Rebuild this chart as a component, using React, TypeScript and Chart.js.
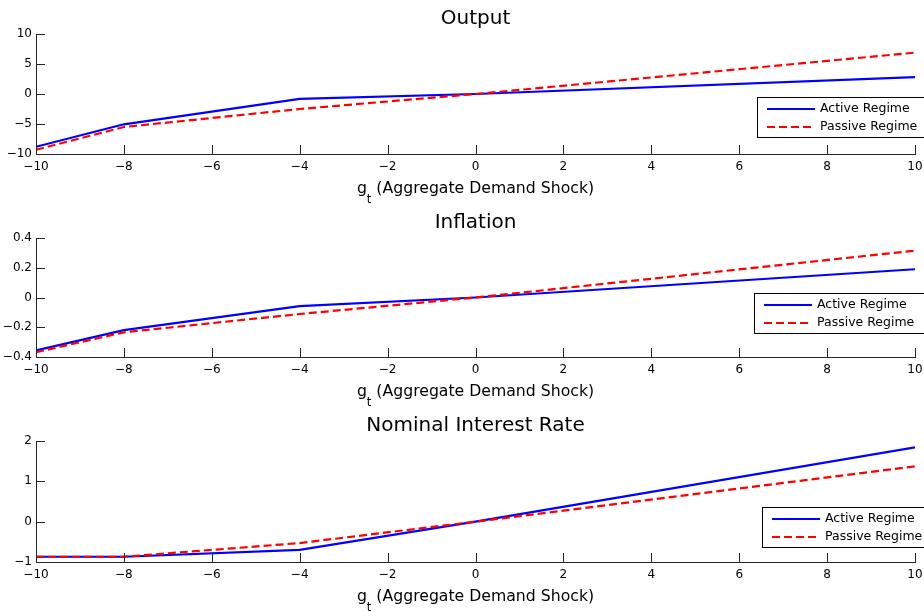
import { useEffect, useRef } from "react";
import { Chart, registerables } from "chart.js";

Chart.register(...registerables);

// Shock grid (g_t) at which the policy functions are evaluated
const shockGrid = [-10, -8, -4, 0, 10];

// Output response
const outputActive = [-8.8, -5.05, -0.8, 0, 2.8];
const outputPassive = [-9.3, -5.5, -2.5, 0, 6.9];

// Inflation response
const inflationActive = [-0.355, -0.219, -0.058, 0, 0.19];
const inflationPassive = [-0.368, -0.234, -0.111, 0, 0.315];

// Nominal interest rate response
const rateActive = [-0.87, -0.87, -0.7, 0, 1.84];
const ratePassive = [-0.87, -0.87, -0.53, 0, 1.37];

const seriesLabels = ["Active Regime", "Passive Regime"];
const panelTitles = ["Output", "Inflation", "Nominal Interest Rate"];
const xAxisLabel = { base: "g", sub: "t", rest: " (Aggregate Demand Shock)" };

// x range / y ranges with tick steps
const xRange = { min: -10, max: 10, step: 2 };
const yRanges = [
  { min: -10, max: 10, step: 5 },
  { min: -0.4, max: 0.4, step: 0.2 },
  { min: -1, max: 2, step: 1 },
];

const FONT = '"DejaVu Sans", sans-serif';
const AXIS_COLOR = "#262626";
const PAGE_W = 924;
const PAGE_H = 612;

type Layout = {
  top: number;
  height: number;
  areaTop: number;
  areaBottom: number;
  legendLeft: number;
  legendTop: number;
};

const layouts: Layout[] = [
  { top: 0, height: 212, areaTop: 34, areaBottom: 154, legendLeft: 757, legendTop: 97 },
  { top: 204, height: 212, areaTop: 34, areaBottom: 153, legendLeft: 754, legendTop: 89 },
  { top: 408, height: 204, areaTop: 33, areaBottom: 154, legendLeft: 762, legendTop: 99 },
];

const AREA_LEFT = 36;
const AREA_RIGHT = 915;
const X_AXIS_H = 50;

const fmt = (v: number) => {
  const r = Math.round(v * 1000) / 1000;
  const s = Math.abs(r) < 1e-9 ? "0" : String(r);
  return s.replace("-", "\u2212");
};

// MATLAB-style decorations: inward ticks, title, subscripted x label, boxed legend
const matlabDecor = {
  id: "matlabDecor",
  afterDraw(chart: any, _args: any, opts: any) {
    const { ctx, chartArea, scales } = chart;
    const xs = scales.x;
    const ys = scales.y;
    ctx.save();

    // inward tick marks
    ctx.strokeStyle = AXIS_COLOR;
    ctx.lineWidth = 1;
    ctx.beginPath();
    xs.ticks.forEach((t: any) => {
      const px = Math.round(xs.getPixelForValue(t.value)) + 0.5;
      ctx.moveTo(px, chartArea.bottom);
      ctx.lineTo(px, chartArea.bottom - 9);
    });
    ys.ticks.forEach((t: any) => {
      const py = Math.round(ys.getPixelForValue(t.value)) + 0.5;
      ctx.moveTo(chartArea.left, py);
      ctx.lineTo(chartArea.left + 9, py);
    });
    ctx.stroke();

    const cx = (chartArea.left + chartArea.right) / 2;

    // title
    ctx.fillStyle = "#000";
    ctx.font = `20px ${FONT}`;
    ctx.textAlign = "center";
    ctx.textBaseline = "middle";
    ctx.fillText(opts.title, cx, chartArea.top - 15);

    // x label with subscript
    const mainFont = `15.7px ${FONT}`;
    const subFont = `11.5px ${FONT}`;
    ctx.font = mainFont;
    const wBase = ctx.measureText(xAxisLabel.base).width;
    const wRest = ctx.measureText(xAxisLabel.rest).width;
    ctx.font = subFont;
    const wSub = ctx.measureText(xAxisLabel.sub).width;
    const total = wBase + wSub + wRest;
    let x0 = cx - total / 2;
    const ly = chartArea.bottom + 35;
    ctx.textAlign = "left";
    ctx.textBaseline = "middle";
    ctx.font = mainFont;
    ctx.fillText(xAxisLabel.base, x0, ly);
    x0 += wBase;
    ctx.font = subFont;
    ctx.fillText(xAxisLabel.sub, x0, ly + 11);
    x0 += wSub;
    ctx.font = mainFont;
    ctx.fillText(xAxisLabel.rest, x0, ly);

    // legend box
    const lx = opts.legendLeft;
    const lt = opts.legendTop;
    const bw = 170;
    const bh = 40;
    ctx.fillStyle = "#fff";
    ctx.fillRect(lx, lt, bw, bh);
    ctx.strokeStyle = "#000";
    ctx.lineWidth = 1;
    ctx.strokeRect(lx + 0.5, lt + 0.5, bw, bh);
    ctx.font = `12.5px ${FONT}`;
    ctx.textBaseline = "middle";
    ctx.textAlign = "left";
    chart.data.datasets.forEach((ds: any, i: number) => {
      const ry = lt + 12 + i * 18;
      ctx.strokeStyle = ds.borderColor;
      ctx.lineWidth = ds.borderWidth;
      ctx.setLineDash(ds.borderDash || []);
      ctx.beginPath();
      ctx.moveTo(lx + 10, ry);
      ctx.lineTo(lx + 58, ry);
      ctx.stroke();
      ctx.setLineDash([]);
      ctx.fillStyle = "#000";
      ctx.fillText(ds.label, lx + 63, ry);
    });

    ctx.restore();
  },
};

type PanelProps = {
  title: string;
  active: number[];
  passive: number[];
  yRange: { min: number; max: number; step: number };
  layout: Layout;
};

function Panel({ title, active, passive, yRange, layout }: PanelProps) {
  const ref = useRef<HTMLCanvasElement | null>(null);

  useEffect(() => {
    if (!ref.current) return;
    const toPts = (vals: number[]) => shockGrid.map((x, i) => ({ x, y: vals[i] }));
    const chart = new Chart(ref.current, {
      type: "line",
      data: {
        datasets: [
          {
            label: seriesLabels[0],
            data: toPts(active),
            borderColor: "#0000ff",
            borderWidth: 2.2,
            pointRadius: 0,
            fill: false,
            tension: 0,
            order: 1,
          },
          {
            label: seriesLabels[1],
            data: toPts(passive),
            borderColor: "#ff0000",
            borderWidth: 2.2,
            borderDash: [8, 4],
            pointRadius: 0,
            fill: false,
            tension: 0,
            order: 0,
          },
        ],
      },
      options: {
        responsive: false,
        animation: false,
        devicePixelRatio: 1,
        layout: {
          padding: {
            left: 0,
            right: PAGE_W - AREA_RIGHT,
            top: layout.areaTop,
            bottom: layout.height - X_AXIS_H - layout.areaBottom,
          },
        },
        plugins: {
          legend: { display: false },
          title: { display: false },
          tooltip: { enabled: false },
          matlabDecor: { title, legendLeft: layout.legendLeft, legendTop: layout.legendTop },
        } as any,
        scales: {
          x: {
            type: "linear",
            min: xRange.min,
            max: xRange.max,
            grid: { display: false, drawTicks: false },
            border: { display: true, color: AXIS_COLOR, width: 1 },
            ticks: {
              stepSize: xRange.step,
              autoSkip: false,
              maxRotation: 0,
              padding: 6,
              color: "#000",
              font: { family: FONT, size: 12 },
              callback: (v: any) => fmt(Number(v)),
            },
            afterFit: (s: any) => {
              s.height = X_AXIS_H;
              s.paddingLeft = 0;
              s.paddingRight = 0;
            },
          },
          y: {
            type: "linear",
            min: yRange.min,
            max: yRange.max,
            grid: { display: false, drawTicks: false },
            border: { display: true, color: AXIS_COLOR, width: 1 },
            ticks: {
              stepSize: yRange.step,
              autoSkip: false,
              padding: 4,
              color: "#000",
              font: { family: FONT, size: 12 },
              callback: (v: any) => fmt(Number(v)),
            },
            afterFit: (s: any) => {
              s.width = AREA_LEFT;
              s.paddingTop = 0;
              s.paddingBottom = 0;
            },
          },
        },
      },
      plugins: [matlabDecor],
    });
    return () => chart.destroy();
  }, [title, active, passive, yRange, layout]);

  return (
    <canvas
      ref={ref}
      width={PAGE_W}
      height={layout.height}
      style={{
        position: "absolute",
        left: 0,
        top: layout.top,
        width: PAGE_W,
        height: layout.height,
      }}
    />
  );
}

export default function App() {
  const series = [
    [outputActive, outputPassive],
    [inflationActive, inflationPassive],
    [rateActive, ratePassive],
  ];
  return (
    <div
      style={{
        position: "absolute",
        left: 0,
        top: 0,
        width: PAGE_W,
        height: PAGE_H,
        overflow: "hidden",
        background: "#fff",
      }}
    >
      {panelTitles.map((t, i) => (
        <Panel
          key={t}
          title={t}
          active={series[i][0]}
          passive={series[i][1]}
          yRange={yRanges[i]}
          layout={layouts[i]}
        />
      ))}
    </div>
  );
}
